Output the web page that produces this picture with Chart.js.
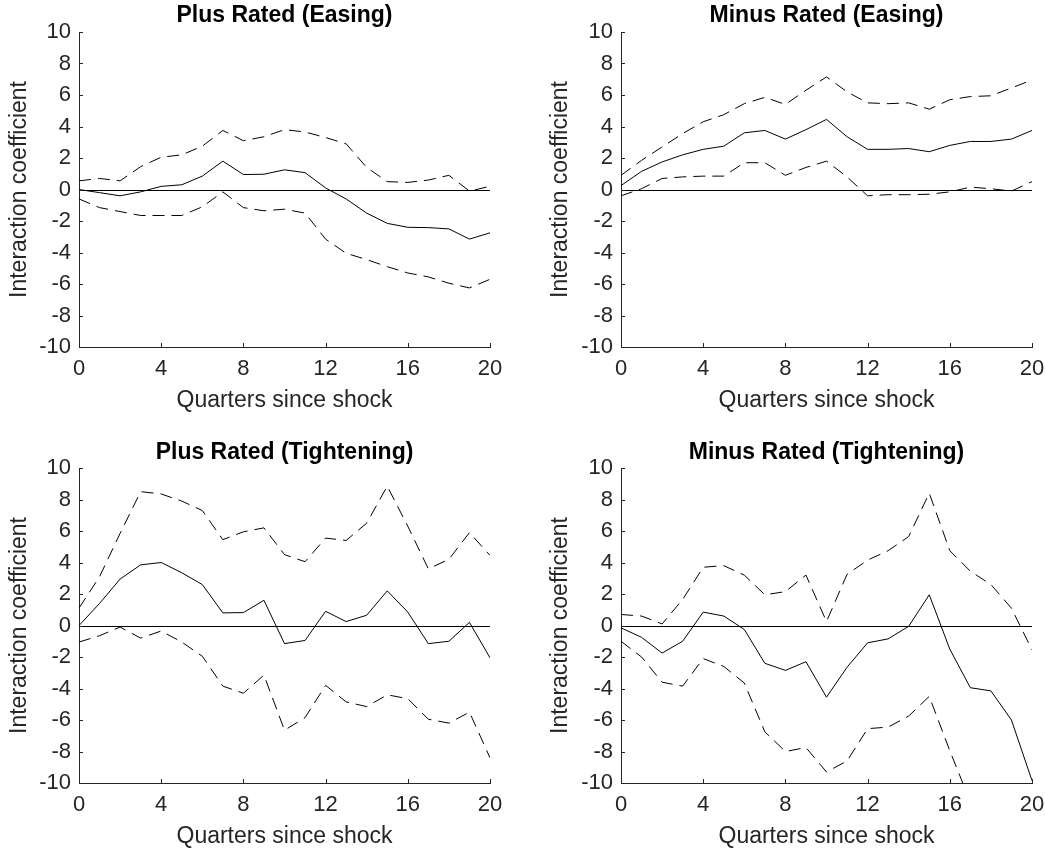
<!DOCTYPE html>
<html>
<head>
<meta charset="utf-8">
<title>Interaction coefficients by rating and policy direction</title>
<script src="https://cdn.jsdelivr.net/npm/chart.js@4.4.1/dist/chart.umd.min.js"></script>
<style>
  html, body { margin: 0; padding: 0; background: #ffffff; }
  #page { position: relative; width: 1045px; height: 851px; overflow: hidden; }
  .panel { position: absolute; }
</style>
</head>
<body>
<div id="page">
  <div class="panel" style="left:0px;top:0px;width:525px;height:425px;"><canvas id="plusEasing" width="525" height="425"></canvas></div>
  <div class="panel" style="left:525px;top:0px;width:540px;height:425px;"><canvas id="minusEasing" width="540" height="425"></canvas></div>
  <div class="panel" style="left:0px;top:428px;width:525px;height:423px;"><canvas id="plusTightening" width="525" height="423"></canvas></div>
  <div class="panel" style="left:525px;top:428px;width:540px;height:423px;"><canvas id="minusTightening" width="540" height="423"></canvas></div>
</div>
<script>
// Horizon (quarters after the shock)
const quarters = [0, 1, 2, 3, 4, 5, 6, 7, 8, 9, 10, 11, 12, 13, 14, 15, 16, 17, 18, 19, 20];
const xTicks = [0, 4, 8, 12, 16, 20];
const yTicks = [-10, -8, -6, -4, -2, 0, 2, 4, 6, 8, 10];
const referenceLevel = 0;

// Plus rated, easing shock: point estimate and confidence band
const plusEasingEst   = [0.0, -0.2, -0.4, -0.15, 0.2, 0.3, 0.85, 1.8, 0.95, 0.97, 1.25, 1.07, 0.1, -0.6, -1.5, -2.15, -2.4, -2.42, -2.5, -3.15, -2.75];
const plusEasingUpper = [0.55, 0.7, 0.55, 1.45, 2.05, 2.2, 2.75, 3.75, 3.1, 3.35, 3.8, 3.65, 3.3, 2.9, 1.4, 0.5, 0.45, 0.6, 0.9, -0.1, 0.2];
const plusEasingLower = [-0.6, -1.15, -1.4, -1.65, -1.65, -1.65, -1.1, -0.15, -1.15, -1.35, -1.25, -1.5, -3.15, -4.05, -4.45, -4.9, -5.3, -5.55, -5.95, -6.25, -5.7];

// Minus rated, easing shock
const minusEasingEst   = [0.25, 1.15, 1.75, 2.2, 2.55, 2.75, 3.6, 3.75, 3.2, 3.8, 4.45, 3.35, 2.55, 2.55, 2.6, 2.4, 2.8, 3.05, 3.05, 3.2, 3.75];
const minusEasingUpper = [0.9, 1.85, 2.7, 3.55, 4.3, 4.75, 5.45, 5.85, 5.4, 6.3, 7.15, 6.2, 5.5, 5.45, 5.5, 5.1, 5.7, 5.9, 5.95, 6.45, 6.95];
const minusEasingLower = [-0.4, 0.05, 0.7, 0.8, 0.85, 0.85, 1.7, 1.7, 0.9, 1.4, 1.8, 0.8, -0.4, -0.33, -0.33, -0.3, -0.15, 0.15, 0.05, -0.1, 0.5];

// Plus rated, tightening shock
const plusTightEst   = [0.0, 1.4, 2.95, 3.85, 4.0, 3.35, 2.6, 0.8, 0.82, 1.6, -1.15, -0.95, 0.9, 0.25, 0.65, 2.2, 0.85, -1.15, -1.0, 0.2, -2.05];
const plusTightUpper = [1.1, 3.1, 5.85, 8.5, 8.35, 7.9, 7.3, 5.45, 5.95, 6.2, 4.5, 4.05, 5.55, 5.4, 6.5, 8.85, 6.3, 3.6, 4.2, 5.9, 4.45];
const plusTightLower = [-1.05, -0.65, -0.1, -0.8, -0.35, -1.05, -1.95, -3.85, -4.3, -3.15, -6.65, -5.85, -3.8, -4.85, -5.15, -4.4, -4.65, -5.95, -6.2, -5.5, -8.4];

// Minus rated, tightening shock (lower band leaves the -10 floor after quarter 16)
const minusTightEst   = [-0.15, -0.75, -1.75, -1.0, 0.85, 0.6, -0.25, -2.4, -2.85, -2.3, -4.55, -2.65, -1.1, -0.85, -0.05, 1.95, -1.5, -3.95, -4.15, -6.0, -9.85];
const minusTightUpper = [0.7, 0.6, 0.1, 1.65, 3.7, 3.8, 3.2, 1.95, 2.15, 3.2, 0.25, 3.25, 4.15, 4.75, 5.65, 8.4, 4.75, 3.45, 2.6, 1.1, -1.55];
const minusTightLower = [-1.0, -2.0, -3.6, -3.85, -2.1, -2.6, -3.65, -6.75, -8.0, -7.75, -9.3, -8.6, -6.55, -6.45, -5.75, -4.5, -7.95, -11.2, -12.0, -12.6, -13.4];

const FONT = '"Liberation Sans", Arial, Helvetica, sans-serif';
const AXIS_COLOR = '#262626';

// Inward tick marks, the zero reference line and the bold panel heading
const panelDecor = {
  id: 'panelDecor',
  beforeDatasetsDraw(chart) {
    const { ctx, scales: { x, y } } = chart;
    const py = Math.round(y.getPixelForValue(referenceLevel)) + 0.5;
    ctx.save();
    ctx.strokeStyle = '#000000';
    ctx.lineWidth = 1;
    ctx.beginPath();
    ctx.moveTo(x.getPixelForValue(quarters[0]), py);
    ctx.lineTo(x.getPixelForValue(quarters[quarters.length - 1]), py);
    ctx.stroke();
    ctx.restore();
  },
  afterDatasetsDraw(chart, args, opts) {
    const { ctx, chartArea: a, scales: { x, y } } = chart;
    ctx.save();
    ctx.strokeStyle = AXIS_COLOR;
    ctx.lineWidth = 1;
    ctx.beginPath();
    x.ticks.forEach(t => {
      const px = Math.round(x.getPixelForValue(t.value)) + 0.5;
      ctx.moveTo(px, a.bottom);
      ctx.lineTo(px, a.bottom - 4);
    });
    y.ticks.forEach(t => {
      const py = Math.round(y.getPixelForValue(t.value)) + 0.5;
      ctx.moveTo(a.left, py);
      ctx.lineTo(a.left + 4, py);
    });
    ctx.stroke();
    ctx.fillStyle = '#000000';
    ctx.font = 'bold 23px ' + FONT;
    ctx.textAlign = 'center';
    ctx.textBaseline = 'alphabetic';
    ctx.fillText(opts.text, (a.left + a.right) / 2, a.top - opts.gap);
    ctx.restore();
  }
};

function series(values, dashed) {
  return {
    data: quarters.map((q, i) => ({ x: q, y: values[i] })),
    borderColor: '#000000',
    borderWidth: 1,
    borderDash: dashed ? [12, 7] : [],
    pointRadius: 0,
    tension: 0,
    fill: false
  };
}

function makePanel(id, heading, est, upper, lower, box) {
  new Chart(document.getElementById(id), {
    type: 'line',
    data: {
      datasets: [series(upper, true), series(est, false), series(lower, true)]
    },
    options: {
      responsive: false,
      animation: false,
      devicePixelRatio: 1,
      layout: { padding: { left: 0, top: box.top, right: box.right, bottom: box.bottom } },
      plugins: {
        legend: { display: false },
        tooltip: { enabled: false },
        panelDecor: { text: heading, gap: box.titleGap }
      },
      scales: {
        x: {
          type: 'linear',
          min: quarters[0],
          max: quarters[quarters.length - 1],
          afterBuildTicks: s => { s.ticks = xTicks.map(v => ({ value: v })); },
          afterFit: s => { s.height = box.xHeight; },
          grid: { display: true, drawOnChartArea: false, drawTicks: false },
          border: { display: true, color: AXIS_COLOR, width: 1 },
          ticks: { color: AXIS_COLOR, font: { family: FONT, size: 22 }, padding: 9, maxRotation: 0, autoSkip: false },
          title: { display: true, text: 'Quarters since shock', color: AXIS_COLOR, font: { family: FONT, size: 23 }, padding: { top: 0, bottom: box.xTitlePad } }
        },
        y: {
          type: 'linear',
          min: yTicks[0],
          max: yTicks[yTicks.length - 1],
          afterBuildTicks: s => { s.ticks = yTicks.map(v => ({ value: v })); },
          afterFit: s => { s.width = box.left; },
          grid: { display: true, drawOnChartArea: false, drawTicks: false },
          border: { display: true, color: AXIS_COLOR, width: 1 },
          ticks: { color: AXIS_COLOR, font: { family: FONT, size: 22 }, padding: 8, autoSkip: false },
          title: { display: true, text: 'Interaction coefficient', color: AXIS_COLOR, font: { family: FONT, size: 23 }, padding: { top: box.yTitlePad, bottom: 0 } }
        }
      }
    },
    plugins: [panelDecor]
  });
}

makePanel('plusEasing', 'Plus Rated (Easing)', plusEasingEst, plusEasingUpper, plusEasingLower,
  { left: 79, top: 32, right: 35, bottom: 8, xHeight: 70, xTitlePad: 3, yTitlePad: 6, titleGap: 10 });
makePanel('minusEasing', 'Minus Rated (Easing)', minusEasingEst, minusEasingUpper, minusEasingLower,
  { left: 96, top: 32, right: 33, bottom: 8, xHeight: 70, xTitlePad: 3, yTitlePad: 21.5, titleGap: 10 });
makePanel('plusTightening', 'Plus Rated (Tightening)', plusTightEst, plusTightUpper, plusTightLower,
  { left: 79, top: 40, right: 35, bottom: 0, xHeight: 68, xTitlePad: 0.2, yTitlePad: 6, titleGap: 9 });
makePanel('minusTightening', 'Minus Rated (Tightening)', minusTightEst, minusTightUpper, minusTightLower,
  { left: 96, top: 40, right: 33, bottom: 0, xHeight: 68, xTitlePad: 0.2, yTitlePad: 21.5, titleGap: 9 });
</script>
</body>
</html>
